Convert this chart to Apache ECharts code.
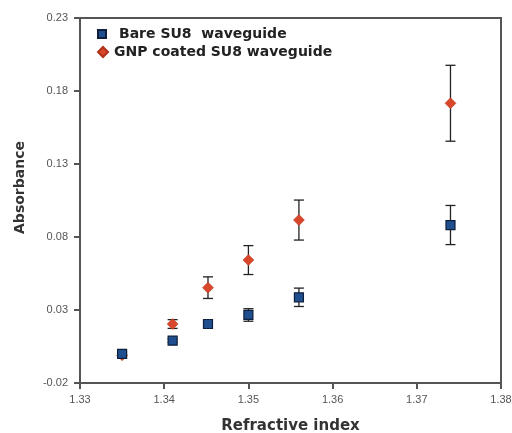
<!DOCTYPE html>
<html>
<head>
<meta charset="utf-8">
<script src="https://cdn.jsdelivr.net/npm/echarts@6/dist/echarts.min.js"></script>
<style>
  html, body { margin: 0; padding: 0; background: #fff; }
  #chart { width: 512px; height: 433px; }
</style>
</head>
<body>
<div id="chart"></div>
<script>
// refractive index of each sample
const bareX = [1.335, 1.341, 1.3452, 1.35, 1.356, 1.374];
const bareY = [0.0, 0.009, 0.0204, 0.0266, 0.0387, 0.0882];
const bareErr = [0.0012, 0.0012, 0.002, 0.0043, 0.0063, 0.0134];

const gnpX = [1.335, 1.341, 1.3452, 1.35, 1.356, 1.374];
const gnpY = [-0.001, 0.0204, 0.0453, 0.0642, 0.0916, 0.1716];
const gnpErr = [0.001, 0.003, 0.0074, 0.0099, 0.0137, 0.026];

const xTicks = [1.33, 1.34, 1.35, 1.36, 1.37, 1.38];
const yTicks = [-0.02, 0.03, 0.08, 0.13, 0.18, 0.23];

const font = 'Liberation Sans, Arial, sans-serif';
const boldFont = 'DejaVu Sans, sans-serif';

function points(xs, ys) {
  return xs.map((x, i) => [x, ys[i]]);
}
function bars(xs, ys, es) {
  return xs.map((x, i) => [x, ys[i] - es[i], ys[i] + es[i]]);
}

// error bar with caps
function errRender(params, api) {
  const top = api.coord([api.value(0), api.value(2)]);
  const bot = api.coord([api.value(0), api.value(1)]);
  const w = 5;
  const st = { stroke: '#222', lineWidth: 1.3 };
  return {
    type: 'group',
    children: [
      { type: 'line', shape: { x1: top[0], y1: top[1], x2: bot[0], y2: bot[1] }, style: st },
      { type: 'line', shape: { x1: top[0] - w, y1: top[1], x2: top[0] + w, y2: top[1] }, style: st },
      { type: 'line', shape: { x1: bot[0] - w, y1: bot[1], x2: bot[0] + w, y2: bot[1] }, style: st }
    ]
  };
}

const legendText = { fontFamily: boldFont, fontWeight: 'bold', fontSize: 14, color: '#222' };

const chart = echarts.init(document.getElementById('chart'));
chart.setOption({
  animation: false,
  textStyle: { fontFamily: font },
  grid: {
    left: 80, right: 11, top: 18, bottom: 50,
    outerBoundsMode: 'none', containLabel: false,
    show: true, borderColor: '#555', borderWidth: 2, backgroundColor: 'transparent'
  },
  legend: [
    {
      left: 97, top: 27, padding: 0,
      itemWidth: 8, itemHeight: 8, itemGap: 0,
      textStyle: Object.assign({ padding: [0, 0, 0, 8] }, legendText),
      data: [{ name: 'Bare SU8  waveguide', icon: 'rect' }]
    },
    {
      left: 97, top: 45, padding: 0,
      itemWidth: 10, itemHeight: 10, itemGap: 0,
      textStyle: Object.assign({ padding: [0, 0, 0, 1] }, legendText),
      data: [{ name: 'GNP coated SU8 waveguide', icon: 'diamond' }]
    }
  ],
  xAxis: {
    type: 'value',
    min: xTicks[0], max: xTicks[xTicks.length - 1], interval: 0.01,
    name: 'Refractive index',
    nameLocation: 'middle', nameGap: 36,
    nameTextStyle: { fontFamily: boldFont, fontWeight: 'bold', fontSize: 15, color: '#333' },
    axisLine: { onZero: false, lineStyle: { color: '#555', width: 2 } },
    axisTick: { length: 6, lineStyle: { color: '#555', width: 2 } },
    axisLabel: { fontSize: 11, color: '#555', margin: 11, formatter: v => v.toFixed(2) },
    splitLine: { show: false }
  },
  yAxis: {
    type: 'value',
    min: yTicks[0], max: yTicks[yTicks.length - 1], interval: 0.05,
    name: 'Absorbance',
    nameLocation: 'middle', nameGap: 53,
    nameTextStyle: {
      fontFamily: boldFont, fontWeight: 'bold', fontSize: 14, color: '#333',
      padding: [0, 0, 0, 26]
    },
    axisLine: { onZero: false, lineStyle: { color: '#555', width: 2 } },
    axisTick: { length: 6, lineStyle: { color: '#555', width: 2 } },
    axisLabel: { fontSize: 11, color: '#555', margin: 12, formatter: v => v.toFixed(2) },
    splitLine: { show: false }
  },
  series: [
    {
      type: 'custom', name: 'gnpErr', renderItem: errRender,
      data: bars(gnpX, gnpY, gnpErr), z: 2, silent: true
    },
    {
      type: 'custom', name: 'bareErr', renderItem: errRender,
      data: bars(bareX, bareY, bareErr), z: 2, silent: true
    },
    {
      name: 'GNP coated SU8 waveguide', type: 'scatter', symbol: 'diamond', symbolSize: 11,
      itemStyle: { color: '#d9472b', borderColor: '#b03018', borderWidth: 0.5, opacity: 1 },
      data: points(gnpX, gnpY), z: 3
    },
    {
      name: 'Bare SU8  waveguide', type: 'scatter', symbol: 'rect', symbolSize: 9,
      itemStyle: { color: '#1f4f8f', borderColor: '#0d1f3a', borderWidth: 1.2, opacity: 1 },
      data: points(bareX, bareY), z: 4
    }
  ]
});
</script>
</body>
</html>
